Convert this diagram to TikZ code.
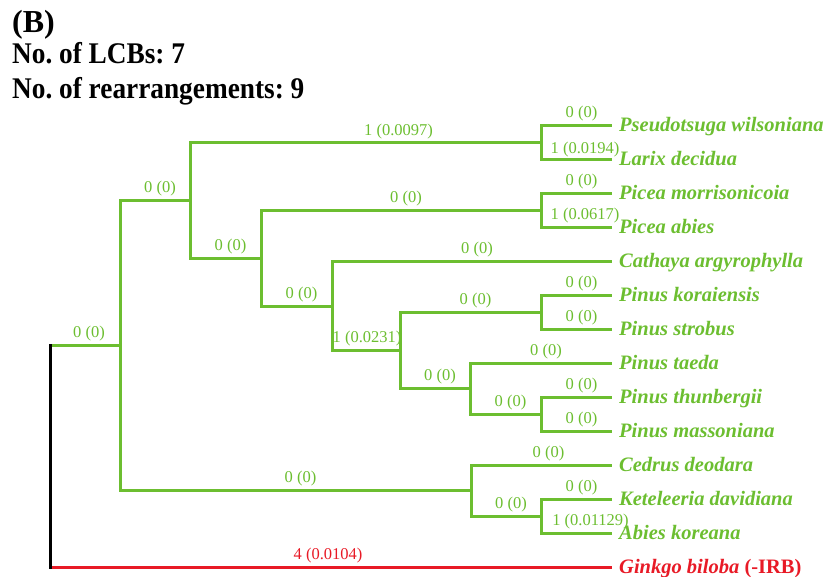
\documentclass[tikz,border=0pt]{standalone}
\usepackage{fontspec}
\setmainfont{Liberation Serif}
\newfontfamily\headfont[FakeStretch=0.91]{Liberation Serif}
\definecolor{tgreen}{RGB}{108,190,48}
\definecolor{tred}{RGB}{232,26,38}
\begin{document}
\frenchspacing
\begin{tikzpicture}[x=1pt,y=-1pt,
  br/.style={line width=3pt, draw=tgreen, line join=miter},
  lbl/.style={font=\fontsize{16.5}{18}\selectfont, text=tgreen, anchor=base, inner sep=0pt, xshift=5pt, yshift=8pt},
  leaf/.style={font=\fontsize{20.5}{22}\selectfont\bfseries\itshape, text=tgreen, anchor=west, inner sep=0pt, text height=12pt, text depth=0pt, xshift=7pt},
  head/.style={anchor=base west, inner sep=0pt, font=\headfont\fontsize{30}{32}\selectfont\bfseries},
]
\useasboundingbox (0,0) rectangle (835,577);

% headings
\node[head, font=\fontsize{32}{34}\selectfont\bfseries] (title) at (12,33) {(B)};
\node[head] (lcb) at (12,64) {No. of LCBs: 7};
\node[head] (rea) at (12,99) {No. of rearrangements: 9};

% leaf tips
\coordinate (t0) at (612,126);
\coordinate (t1) at (612,159.9);
\coordinate (t2) at (612,193.8);
\coordinate (t3) at (612,227.8);
\coordinate (t4) at (612,261.7);
\coordinate (t5) at (612,295.6);
\coordinate (t6) at (612,329.5);
\coordinate (t7) at (612,363.4);
\coordinate (t8) at (612,397.4);
\coordinate (t9) at (612,431.3);
\coordinate (t10) at (612,465.2);
\coordinate (t11) at (612,499.1);
\coordinate (t12) at (612,533);
\coordinate (t13) at (612,567);

% internal nodes
\coordinate (K) at (541,143);
\coordinate (L) at (541,210.8);
\coordinate (F) at (541,312.5);
\coordinate (H) at (541,414.3);
\coordinate (J) at (541,516);
\coordinate (G) at (470,388.9);
\coordinate (E) at (400,350.7);
\coordinate (D) at (332,306.2);
\coordinate (C) at (261,258.5);
\coordinate (B) at (190,200.7);
\coordinate (I) at (471,490.6);
\coordinate (A) at (120,345.7);
\coordinate (R1) at (50,345.7);
\coordinate (R2) at (50,567);

% leaf labels
\node[leaf] (n0) at (t0) {Pseudotsuga wilsoniana};
\node[leaf] (n1) at (t1) {Larix decidua};
\node[leaf] (n2) at (t2) {Picea morrisonicoia};
\node[leaf] (n3) at (t3) {Picea abies};
\node[leaf] (n4) at (t4) {Cathaya argyrophylla};
\node[leaf] (n5) at (t5) {Pinus koraiensis};
\node[leaf] (n6) at (t6) {Pinus strobus};
\node[leaf] (n7) at (t7) {Pinus taeda};
\node[leaf] (n8) at (t8) {Pinus thunbergii};
\node[leaf] (n9) at (t9) {Pinus massoniana};
\node[leaf] (n10) at (t10) {Cedrus deodara};
\node[leaf] (n11) at (t11) {Keteleeria davidiana};
\node[leaf] (n12) at (t12) {Abies koreana};
\node[leaf, text=tred] (n13) at (t13) {Ginkgo biloba \upshape(-IRB)};

% branches
\draw[br] (K) |- (t0) node[lbl,pos=.75] {0 (0)};
\draw[br] (K) |- (t1) node[lbl,pos=.75,xshift=3.5pt,yshift=-1.5pt] {1 (0.0194)};
\draw[br] (L) |- (t2) node[lbl,pos=.75] {0 (0)};
\draw[br] (L) |- (t3) node[lbl,pos=.75,xshift=3.5pt] {1 (0.0617)};
\draw[br] (F) |- (t5) node[lbl,pos=.75] {0 (0)};
\draw[br] (F) |- (t6) node[lbl,pos=.75] {0 (0)};
\draw[br] (H) |- (t8) node[lbl,pos=.75] {0 (0)};
\draw[br] (H) |- (t9) node[lbl,pos=.75] {0 (0)};
\draw[br] (J) |- (t11) node[lbl,pos=.75] {0 (0)};
\draw[br] (J) |- (t12) node[lbl,pos=.75,xshift=9pt] {1 (0.01129)};
\draw[br] (G) |- (t7) node[lbl,pos=.75] {0 (0)};
\draw[br] (G) |- (H) node[lbl,pos=.75] {0 (0)};
\draw[br] (E) |- (F) node[lbl,pos=.75] {0 (0)};
\draw[br] (E) |- (G) node[lbl,pos=.75] {0 (0)};
\draw[br] (D) |- (t4) node[lbl,pos=.75] {0 (0)};
\draw[br] (D) |- (E) node[lbl,pos=.75,xshift=-4pt] {1 (0.0231)};
\draw[br] (C) |- (L) node[lbl,pos=.75] {0 (0)};
\draw[br] (C) |- (D) node[lbl,pos=.75] {0 (0)};
\draw[br] (B) |- (K) node[lbl,pos=.75,xshift=28pt,yshift=-1pt] {1 (0.0097)};
\draw[br] (B) |- (C) node[lbl,pos=.75] {0 (0)};
\draw[br] (I) |- (t10) node[lbl,pos=.75,xshift=2pt] {0 (0)};
\draw[br] (I) |- (J) node[lbl,pos=.75] {0 (0)};
\draw[br] (A) |- (B) node[lbl,pos=.75] {0 (0)};
\draw[br] (A) |- (I) node[lbl,pos=.75] {0 (0)};
\draw[br] (R1) -- (A) node[lbl,midway,xshift=-1pt] {0 (0)};
\draw[br, draw=tred] (R2) -- (t13) node[lbl,midway,text=tred,xshift=-8pt] {4 (0.0104)};
\draw[line width=3pt, draw=black, line cap=rect] (R1) -- (R2);
\end{tikzpicture}
\end{document}
